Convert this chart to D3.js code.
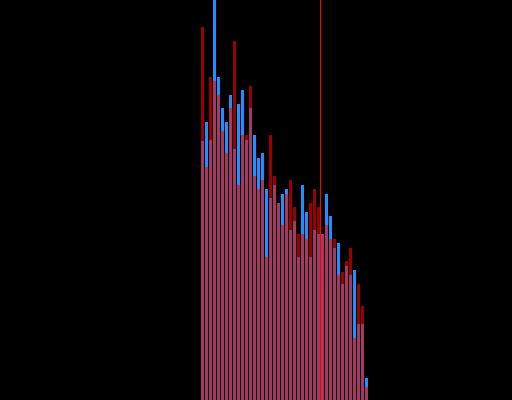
<!DOCTYPE html>
<html>
<head>
<meta charset="utf-8">
<script src="https://cdn.jsdelivr.net/npm/d3@7"></script>
<style>
  html, body { margin: 0; padding: 0; background: #000; }
</style>
</head>
<body>
<div id="chart"></div>
<script>
// chart size
var svgWidth = 512;
var svgHeight = 400;

// bar values (pixel-ish units, 0 = bottom, 400 = top)
var blueValues = [259, 278, 260, 400, 323, 292, 278, 305, 251, 296,
                  310, 260, 292, 265, 242, 247, 211, 202, 215, 197,
                  206, 211, 170, 179, 143, 215, 188, 143, 170, 166,
                  166, 206, 184, 152, 157, 116, 134, 125, 130, 76,
                  76, 22];
var redValues  = [373, 233, 323, 319, 305, 269, 247, 292, 359, 215,
                  265, 265, 314, 224, 211, 220, 143, 265, 224, 197,
                  175, 206, 220, 193, 166, 166, 161, 197, 211, 193,
                  166, 175, 161, 161, 125, 128, 139, 152, 62, 116,
                  94, 13];
var markerIndex = 30;

var indices = d3.range(blueValues.length);

var svg = d3.select("#chart")
  .append("svg")
  .attr("width", svgWidth)
  .attr("height", svgHeight)
  .style("display", "block")
  .style("background", "#000");

var xScale = d3.scaleBand()
  .domain(indices)
  .range([200.5, 368.5])
  .paddingInner(0.25)
  .paddingOuter(0.125);

var yScale = d3.scaleLinear()
  .domain([0, 400])
  .range([svgHeight, 0]);

// blue series
svg.append("g")
  .selectAll("rect")
  .data(blueValues)
  .enter()
  .append("rect")
  .attr("x", (d, i) => xScale(i))
  .attr("y", d => yScale(d))
  .attr("width", xScale.bandwidth())
  .attr("height", d => svgHeight - yScale(d))
  .attr("fill", "#1e90ff");

// red series, drawn on top with transparency
svg.append("g")
  .selectAll("rect")
  .data(redValues)
  .enter()
  .append("rect")
  .attr("x", (d, i) => xScale(i))
  .attr("y", d => yScale(d))
  .attr("width", xScale.bandwidth())
  .attr("height", d => svgHeight - yScale(d))
  .attr("fill", "#ff0000")
  .attr("opacity", 0.6);

// vertical marker line in the gap before markerIndex
var markerX = xScale(markerIndex) - xScale.step() * xScale.paddingInner() / 2;
svg.append("line")
  .attr("x1", markerX)
  .attr("x2", markerX)
  .attr("y1", 0)
  .attr("y2", svgHeight)
  .attr("stroke", "#ff0000")
  .attr("stroke-width", 1);
</script>
</body>
</html>
